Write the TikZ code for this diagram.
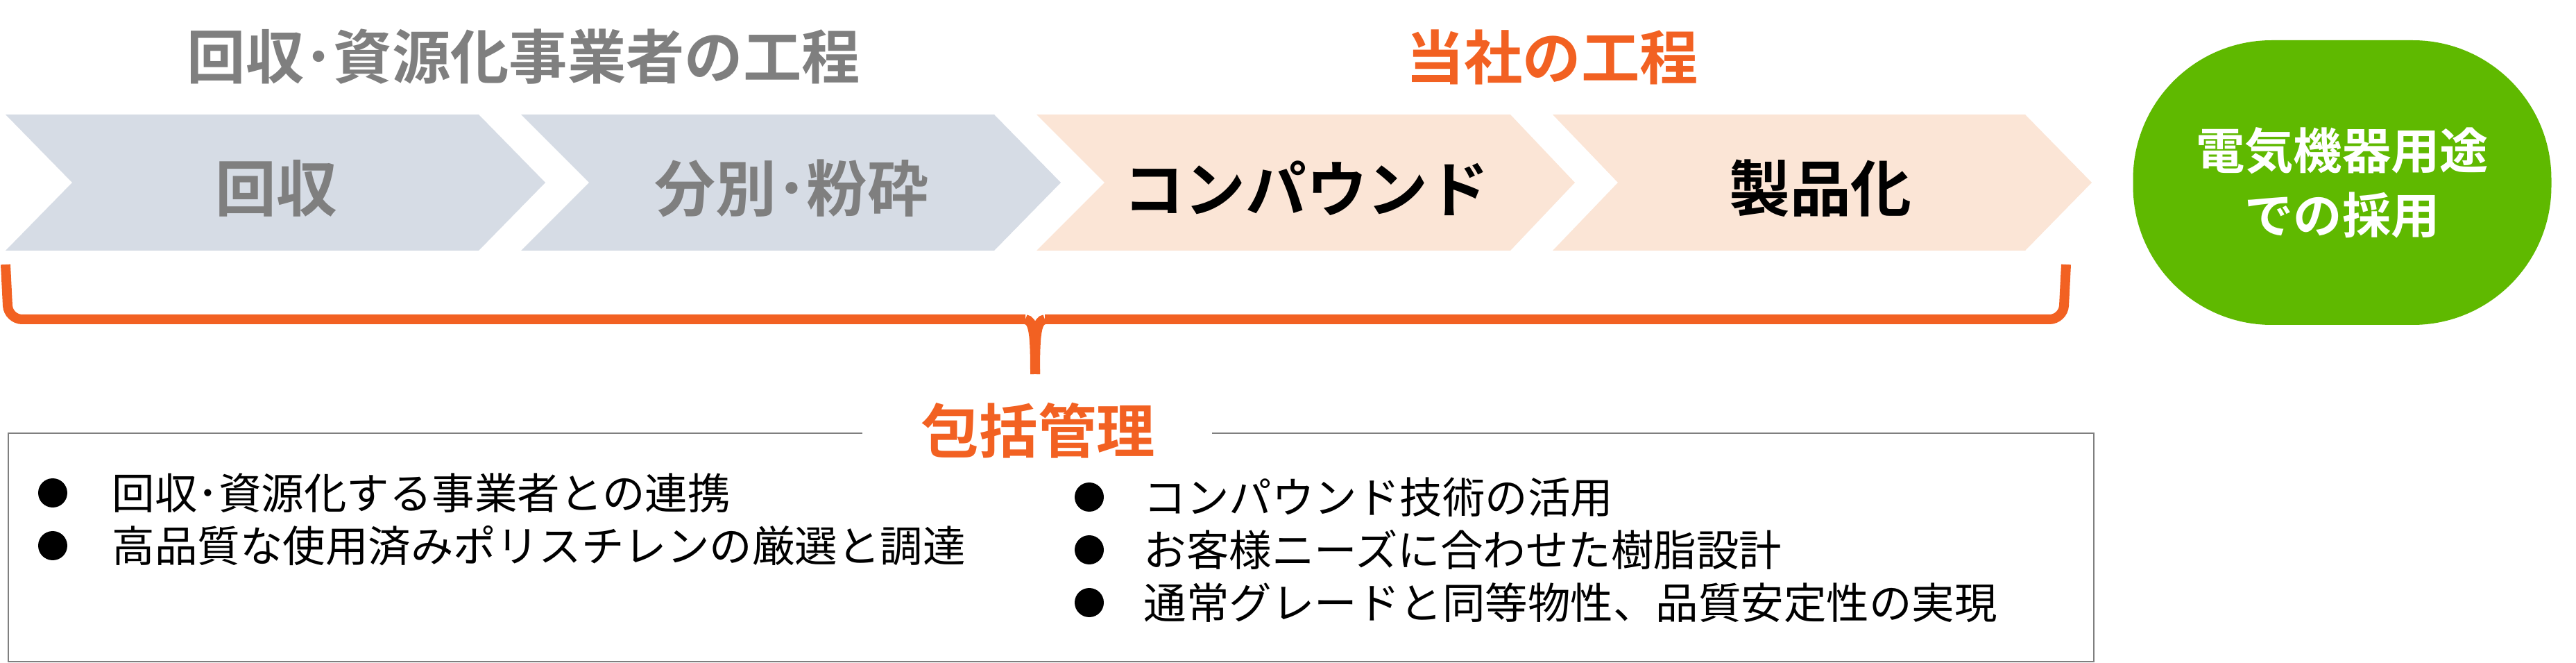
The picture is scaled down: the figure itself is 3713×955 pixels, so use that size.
\documentclass[tikz,border=0pt]{standalone}
\usepackage{fontspec}
\setmainfont{Noto Sans CJK JP}
\newfontfamily\boldjp{Noto Sans CJK JP Bold}
\usetikzlibrary{positioning}
\definecolor{grau}{HTML}{7F7F7F}
\definecolor{blaagraa}{HTML}{D6DCE5}
\definecolor{lysorange}{HTML}{FBE5D6}
\definecolor{oransje}{HTML}{F26122}
\definecolor{gronn}{HTML}{5FB900}
\begin{document}
\begin{tikzpicture}[x=0.1mm,y=-0.1mm]

% Stiler
\tikzstyle{tittel}	=	[font=\boldjp\fontsize{24}{28}\selectfont, inner sep=0pt]
\tikzstyle{steg}	=	[font=\boldjp\fontsize{25}{30}\selectfont, inner sep=0pt]
\tikzstyle{punkt}	=	[font=\fontsize{17.5}{21}\selectfont, anchor=west, inner sep=0pt]
\tikzstyle{prikk}	=	[circle, fill=black, minimum size=4.2mm, inner sep=0pt]

\useasboundingbox (0,0) rectangle (3713,955);

	% Piler
	\fill[blaagraa] (8,165) -- (690,165) -- (786,263) -- (690,361) -- (8,361) -- (104,263) -- cycle;
	\fill[blaagraa] (751,165) -- (1433,165) -- (1529,263) -- (1433,361) -- (751,361) -- (849,263) -- cycle;
	\fill[lysorange] (1494,165) -- (2177,165) -- (2270,263) -- (2177,361) -- (1494,361) -- (1592,263) -- cycle;
	\fill[lysorange] (2238,165) -- (2919,165) -- (3015,263) -- (2919,361) -- (2238,361) -- (2332,263) -- cycle;

	% Overskrifter
	\node[tittel, text=grau] (resirk_tekst) at (755,82) {回収･資源化事業者の工程};
	\node[tittel, text=oransje] (egen_tekst) at (2237,82) {当社の工程};

	\node[steg, text=grau] (innsamling) at (398,271) {回収};
	\node[steg, text=grau] (sortering) at (1141,271) {分別･粉砕};
	\node[steg] (compound) at (1883,271) {コンパウンド};
	\node[steg] (produkt) at (2624,271) {製品化};

	% Bruk
	\node[fill=gronn, rounded corners=200*0.1mm, minimum width=60.3mm, minimum height=41mm, text=white, align=center,
		font=\boldjp\fontsize{20}{26.5}\selectfont] (bruk) at (3376,263) {電気機器用途\\での採用};

	% Klamme
	\draw[oransje, line width=1.4mm, rounded corners=2mm] (8,381) -- (12,460) -- (1478,460);
	\draw[oransje, line width=1.4mm, rounded corners=2mm] (2978,381) -- (2974,460) -- (1506,460);
	\draw[oransje, line width=1.4mm] (1478,460) .. controls (1490,462) and (1492,480) .. (1492,539);
	\draw[oransje, line width=1.4mm] (1506,460) .. controls (1494,462) and (1492,480) .. (1492,539);

	% Boks
	\draw[grau, line width=0.25mm] (1243,624) -- (12,624) -- (12,953) -- (3018,953) -- (3018,624) -- (1747,624);
	\node[tittel, text=oransje] (styring) at (1496,620) {包括管理};

	\node[prikk] (p1) at (76,710) {};
	\node[punkt] (t1) at (161,710) {回収･資源化する事業者との連携};
	\node[prikk] (p2) at (76,786) {};
	\node[punkt] (t2) at (161,786) {高品質な使用済みポリスチレンの厳選と調達};
	\node[prikk] (p3) at (1570,716) {};
	\node[punkt] (t3) at (1648,716) {コンパウンド技術の活用};
	\node[prikk] (p4) at (1570,792) {};
	\node[punkt] (t4) at (1648,792) {お客様ニーズに合わせた樹脂設計};
	\node[prikk] (p5) at (1570,868) {};
	\node[punkt] (t5) at (1648,868) {通常グレードと同等物性、品質安定性の実現};

\end{tikzpicture}
\end{document}
